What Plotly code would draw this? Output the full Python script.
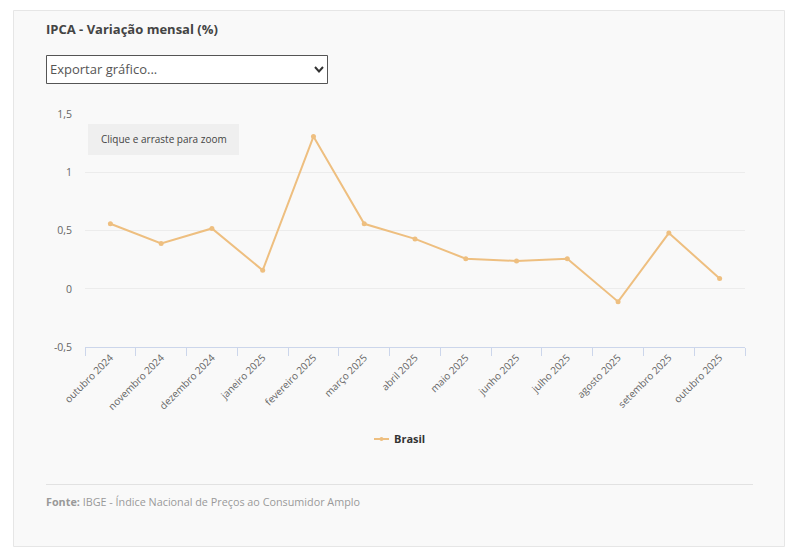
#!/usr/bin/env python3
"""
IPCA - Variação mensal (%)
"""

import plotly.graph_objects as go

W, H = 796, 555
FONT = "Open Sans"
COR = "#eebf80"

meses = [
    "outubro 2024", "novembro 2024", "dezembro 2024", "janeiro 2025",
    "fevereiro 2025", "março 2025", "abril 2025", "maio 2025", "junho 2025",
    "julho 2025", "agosto 2025", "setembro 2025", "outubro 2025",
]
brasil = [0.56, 0.39, 0.52, 0.16, 1.31, 0.56, 0.43, 0.26, 0.24, 0.26, -0.11, 0.48, 0.09]
y_ticks = [-0.5, 0, 0.5, 1, 1.5]
y_labels = ["-0,5", "0", "0,5", "1", "1,5"]


# pixel -> paper
def px(x):
    return x / W


def py(y):
    return 1 - y / H


def caixa(x0, y0, x1, y1, fill, line, width=1, layer="below"):
    return dict(
        type="rect", xref="paper", yref="paper",
        x0=px(x0), x1=px(x1), y0=py(y0), y1=py(y1),
        fillcolor=fill, line=dict(color=line, width=width), layer=layer,
    )


def texto(x, y, s, size, color, anchor="left"):
    return dict(
        xref="paper", yref="paper", x=px(x), y=py(y), text=s, showarrow=False,
        xanchor=anchor, yanchor="middle", borderpad=0, borderwidth=0,
        font=dict(family=FONT, size=size, color=color),
    )


fig = go.Figure()

fig.add_trace(
    go.Scatter(
        x=meses,
        y=brasil,
        mode="lines+markers",
        name="Brasil",
        line=dict(color=COR, width=2),
        marker=dict(color=COR, size=5),
        hoverinfo="x+y",
        showlegend=False,
    )
)

# painel, select, botão de zoom, linha do rodapé
shapes = [
    caixa(13.5, 10.5, 784.5, 546.5, "#f9f9f9", "#e6e6e6"),
    caixa(46.5, 55.5, 327.5, 83.5, "#ffffff", "#555555"),
    caixa(88, 124, 239, 155, "#efefef", "#efefef", width=0),
    dict(
        type="line", xref="paper", yref="paper",
        x0=px(46), x1=px(753), y0=py(484.5), y1=py(484.5),
        line=dict(color="#e2e2e2", width=1), layer="below",
    ),
    # seta do select
    dict(
        type="path", xref="paper", yref="paper",
        path=(
            f"M {px(315)} {py(67)} L {px(319)} {py(71.5)} L {px(323)} {py(67)}"
        ),
        line=dict(color="#333333", width=2), layer="above",
    ),
    # legenda curta (a do plotly nao desce de 30px de linha)
    dict(
        type="line", xref="paper", yref="paper",
        x0=px(374), x1=px(389), y0=py(439), y1=py(439),
        line=dict(color=COR, width=2), layer="above",
    ),
    dict(
        type="circle", xref="paper", yref="paper",
        x0=px(379.5), x1=px(383.5), y0=py(437), y1=py(441),
        fillcolor=COR, line=dict(color=COR, width=0), layer="above",
    ),
]

annotations = [
    texto(46, 28.5, "<b>IPCA - Variação mensal (%)</b>", 13, "#444444"),
    texto(50, 69, "Exportar gráfico...", 13, "#555555"),
    texto(163.5, 139, "Clique e arraste para zoom", 10, "#444444", anchor="center"),
    texto(394, 438.5, "<b>Brasil</b>", 11, "#333333"),
    texto(46, 501, "<b>Fonte:</b> IBGE - Índice Nacional de Preços ao Consumidor Amplo", 10.8, "#999999"),
]

fig.update_layout(
    width=W,
    height=H,
    margin=dict(l=0, r=0, t=0, b=0, autoexpand=False),
    autosize=False,
    paper_bgcolor="#ffffff",
    plot_bgcolor="rgba(0,0,0,0)",
    font=dict(family=FONT, size=11, color="#666666"),
    shapes=shapes,
    annotations=annotations,
    showlegend=False,
    xaxis=dict(
        domain=[px(85), px(745)],
        type="category",
        categoryorder="array",
        categoryarray=meses,
        range=[-0.5, 12.5],
        tickson="boundaries",
        ticks="outside",
        ticklen=8,
        tickwidth=1,
        tickcolor="#ccd6eb",
        tickangle=-45,
        showline=True,
        linecolor="#ccd6eb",
        linewidth=1,
        showgrid=False,
        zeroline=False,
        tickfont=dict(family=FONT, size=10, color="#666666"),
    ),
    yaxis=dict(
        domain=[py(347), py(114.5)],
        range=[-0.5, 1.5],
        tickmode="array",
        tickvals=y_ticks,
        ticktext=y_labels,
        ticks="",
        ticklabelstandoff=12,
        showline=False,
        showgrid=True,
        gridcolor="#ececec",
        gridwidth=1,
        zeroline=False,
        tickfont=dict(family=FONT, size=10.5, color="#666666"),
    ),
)

fig.write_html(
    "out.html",
    config={"displayModeBar": False},
    post_script="document.body.style.margin='0';",
)
